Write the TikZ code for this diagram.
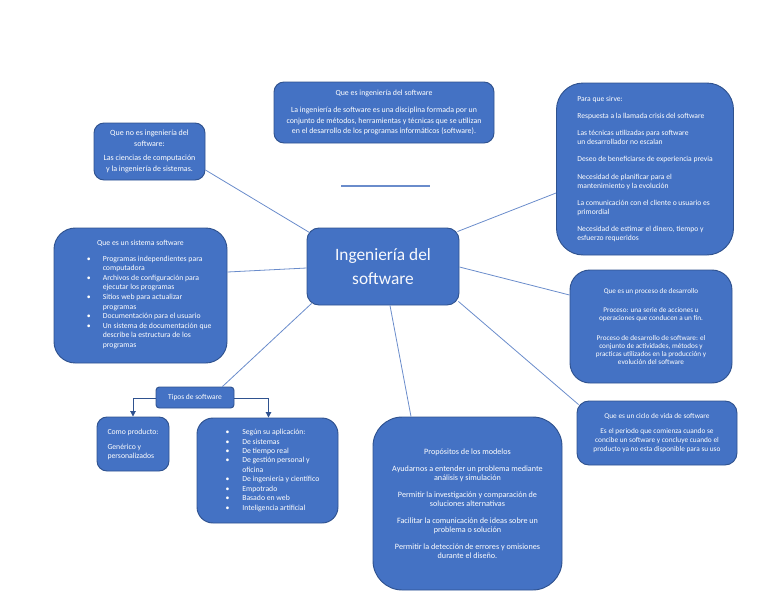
\documentclass[tikz,border=0pt]{standalone}
\usepackage{fontspec}
\setmainfont{Carlito}
\usetikzlibrary{arrows.meta,calc}
\definecolor{ofblue}{HTML}{4472C4}
\definecolor{bdr}{HTML}{2F528F}
\definecolor{lnkc}{HTML}{6A8CCB}
\newcommand\fsz[2]{\fontsize{#1}{#2}\selectfont}
\begin{document}
\begin{tikzpicture}[x=0.75pt,y=-0.75pt,
  bx/.style={draw=bdr, fill=ofblue, text=white, line width=0.7pt, inner sep=0pt},
  sz/.style 2 args={minimum width=#1*0.75pt, minimum height=#2*0.75pt},
  lnk/.style={draw=lnkc, line width=0.6pt},
  arr/.style={draw=bdr, line width=0.7pt, -{Triangle[width=4pt,length=4pt]}},
]
\useasboundingbox (0,0) rectangle (768,594);

\node[bx, sz={152}{77}, rounded corners=9pt, align=center, font=\fsz{13}{18.5}, text=white!96!ofblue]
  (c) at (383,266.5) {Ingeniería del\\software};

\node[bx, sz={220}{61}, rounded corners=7.5pt, align=center, font=\fsz{5.9}{8.2}]
  (tc) at (384,112.5) {Que es ingeniería del software\\[4.5pt]
  La ingeniería de software es una disciplina formada por un\\
  conjunto de métodos, herramientas y técnicas que se utilizan\\
  en el desarrollo de los programas informáticos (software).};

\node[bx, sz={111}{57}, rounded corners=7.5pt, align=center, font=\fsz{6}{8}]
  (tl) at (149.5,151.5) {Que no es ingeniería del\\software:\\[3pt]
  Las ciencias de computación\\y la ingeniería de sistemas.};

\node[bx, sz={177}{172}, rounded corners=20pt, align=left, font=\fsz{5.7}{6.8}]
  (pq) at (645,169) {Para que sirve:\\[6pt]
  Respuesta a la llamada crisis del software\\[6pt]
  Las técnicas utilizadas para software\\un desarrollador no escalan\\[6pt]
  Deseo de beneficiarse de experiencia previa\\[6pt]
  Necesidad de planificar para el\\mantenimiento y la evolución\\[6pt]
  La comunicación con el cliente o usuario es\\primordial\\[6pt]
  Necesidad de estimar el dinero, tiempo y\\esfuerzo requeridos};

\node[bx, sz={173}{135}, rounded corners=16pt, align=center, font=\fsz{5.8}{7.2}]
  (sy) at (140.5,295.5) {Que es un sistema software\\[4.5pt]
  \hspace*{13pt}\begin{tabular}{@{}p{12pt}@{}l@{}}
  \textbullet & Programas independientes para\\
   & computadora\\
  \textbullet & Archivos de configuración para\\
   & ejecutar los programas\\
  \textbullet & Sitios web para actualizar\\
   & programas\\
  \textbullet & Documentación para el usuario\\
  \textbullet & Un sistema de documentación que\\
   & describe la estructura de los\\
   & programas
  \end{tabular}};

\node[bx, sz={162}{113}, rounded corners=15pt, align=center, font=\fsz{5.4}{6.1}]
  (ps) at (651,326.5) {Que es un proceso de desarrollo\\[8.5pt]
  Proceso: una serie de acciones u\\operaciones que conducen a un fin.\\[8.5pt]
  Proceso de desarrollo de software: el\\conjunto de actividades, métodos y\\
  practicas utilizados en la producción y\\evolución del software};

\node[bx, sz={160}{64}, rounded corners=9pt, align=center, font=\fsz{5.5}{6.8}]
  (cv) at (657,433) {Que es un ciclo de vida de software\\[5pt]
  Es el periodo que comienza cuando se\\concibe un software y concluye cuando el\\
  producto ya no esta disponible para su uso};

\node[bx, sz={78}{21}, rounded corners=2.5pt, font=\fsz{5.6}{6.8}]
  (tp) at (195,397.5) {Tipos de software};

\node[bx, sz={72}{54}, rounded corners=7.5pt, align=left, font=\fsz{5.8}{6.8}]
  (cp) at (133,444) {Como producto:\\[4.5pt]Genérico y\\personalizados};

\node[bx, sz={141}{105}, rounded corners=12pt, font=\fsz{5.8}{7.1}]
  (sg) at (267.5,470.5) {%
  \hspace*{7.5pt}\begin{tabular}{@{}p{12.5pt}@{}l@{}}
  \textbullet & Según su aplicación:\\
  \textbullet & De sistemas\\
  \textbullet & De tiempo real\\
  \textbullet & De gestión personal y\\
   & oficina\\
  \textbullet & De ingeniería y científico\\
  \textbullet & Empotrado\\
  \textbullet & Basado en web\\
  \textbullet & Inteligencia artificial
  \end{tabular}};

\node[bx, sz={189}{173}, rounded corners=22pt, align=center, font=\fsz{6.1}{6.5}]
  (pr) at (467.5,503.5) {Propósitos de los modelos\\[6.5pt]
  Ayudarnos a entender un problema mediante\\análisis y simulación\\[6.5pt]
  Permitir la investigación y comparación de\\soluciones alternativas\\[6.5pt]
  Facilitar la comunicación de ideas sobre un\\problema o solución\\[6.5pt]
  Permitir la detección de errores y omisiones\\durante el diseño.};

\coordinate (hl1) at (341,186);
\coordinate (hl2) at (430,186);
\draw[lnk, line width=0.8pt] (hl1) -- (hl2);

\draw[lnk] ($(c.north west)+(3,5)$) -- ($(tl.east)+(0,18.5)$);
\draw[lnk] ($(c.west)+(0,1.5)$) -- ($(sy.east)+(0,-23.5)$);
\draw[lnk] ($(c.south west)+(5,-2)$) -- ($(tp.north east)+(-12,0)$);
\draw[lnk] ($(c.south)+(7,0)$) -- ($(pr.north)+(-56.5,0)$);
\draw[lnk] ($(c.south east)+(-1,-4)$) -- ($(cv.north west)+(2,4)$);
\draw[lnk] ($(c.east)+(0,0.5)$) -- ($(ps.west)+(0,-31.5)$);
\draw[lnk] ($(c.north east)+(-2,4)$) -- ($(pq.west)+(0,24)$);

\draw[arr] ($(tp.west)+(0,1)$) -| (cp.north);
\draw[arr] ($(tp.east)+(0,1)$) -| ($(sg.north)+(1,0)$);
\end{tikzpicture}
\end{document}
